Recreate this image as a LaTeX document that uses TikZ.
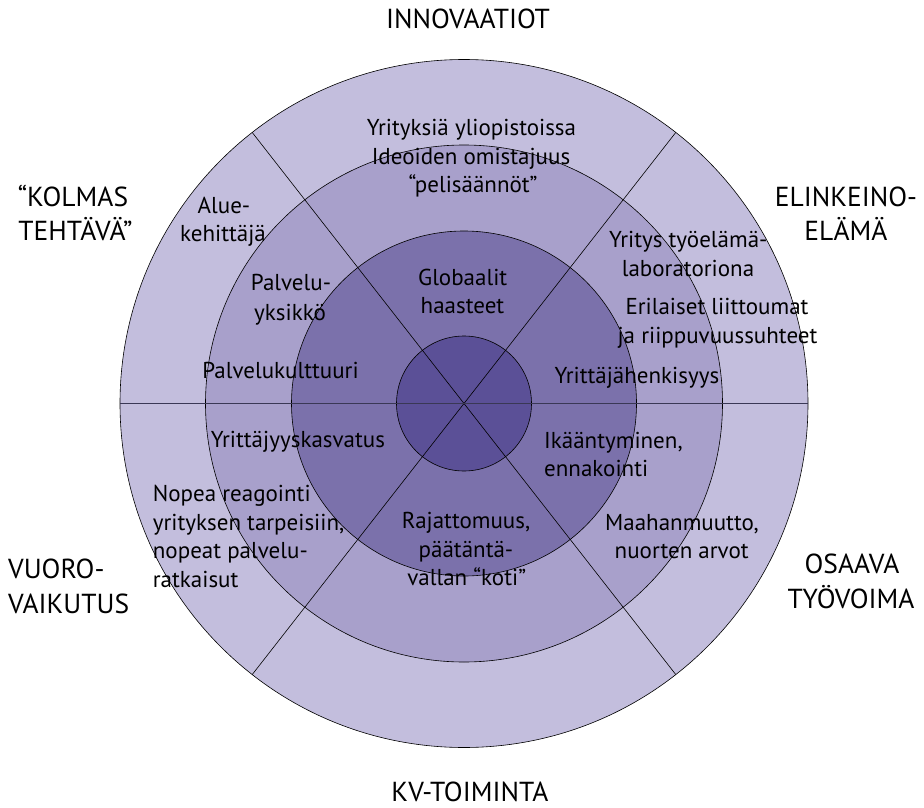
\documentclass[tikz,border=0pt]{standalone}
\usepackage{fontspec}
\setmainfont{PT Sans}
\definecolor{ringA}{RGB}{195,190,221}
\definecolor{ringB}{RGB}{168,160,203}
\definecolor{ringC}{RGB}{123,113,171}
\definecolor{ringD}{RGB}{91,80,151}
\definecolor{hline}{RGB}{58,56,85}
\tikzset{
  ring/.style={draw=black, line width=0.6pt},
  spoke/.style={draw=black, line width=0.6pt},
  lbl/.style={font=\fontsize{27.5}{34}\selectfont, anchor=base, inner sep=0pt},
  lblw/.style={lbl, anchor=base west},
  txt/.style={font=\fontsize{23}{29}\selectfont, anchor=base, inner sep=0pt},
  txtw/.style={txt, anchor=base west},
}
\begin{document}
\begin{tikzpicture}[x=1pt,y=-1pt]
\useasboundingbox (0,0) rectangle (924,808);
\coordinate (c) at (464,403.5);
% rings
\fill[ringA] (c) circle (344);
\fill[ringB] (c) circle (258.5);
\fill[ringC] (c) circle (172.5);
\fill[ringD] (c) circle (67.5);
\draw[ring] (c) circle (344);
\draw[ring] (c) circle (258.5);
\draw[ring] (c) circle (172.5);
\draw[ring] (c) circle (67.5);
% spokes
\path (c) ++(52:344) coordinate (s1a);
\path (c) ++(232:344) coordinate (s1b);
\path (c) ++(128:344) coordinate (s2a);
\path (c) ++(308:344) coordinate (s2b);
\path (c) ++(180:344) coordinate (hl);
\path (c) ++(0:344) coordinate (hr);
\draw[spoke] (s1a) -- (s1b);
\draw[spoke] (s2a) -- (s2b);
\draw[hline, line width=1.3pt] (hl) -- (hr);
% outer labels
\node[lbl] (innov) at (468,28.5) {INNOVAATIOT};
\node[lbl] (kol1) at (73,206.5) {“KOLMAS};
\node[lbl] (kol2) at (75.5,240) {TEHTÄVÄ”};
\node[lbl] (eli1) at (846,206) {ELINKEINO-};
\node[lbl] (eli2) at (846,240) {ELÄMÄ};
\node[lblw] (vuo1) at (8,578) {VUORO-};
\node[lblw] (vuo2) at (8,613) {VAIKUTUS};
\node[lbl] (osa1) at (852,573) {OSAAVA};
\node[lbl] (osa2) at (851,608) {TYÖVOIMA};
\node[lbl] (kv) at (470,801) {KV-TOIMINTA};
% inner texts
\node[txt] (y1) at (471.5,135) {Yrityksiä yliopistoissa};
\node[txt] (y2) at (471,164) {Ideoiden omistajuus};
\node[txt] (y3) at (473,192) {“pelisäännöt”};
\node[txt] (a1) at (224,213.3) {Alue-};
\node[txt] (a2) at (223,241.7) {kehittäjä};
\node[txt] (p1) at (291,290.7) {Palvelu-};
\node[txt] (p2) at (290,320) {yksikkö};
\node[txt] (pk) at (280.5,378.3) {Palvelukulttuuri};
\node[txt] (g1) at (462.7,285.5) {Globaalit};
\node[txt] (g2) at (462.5,313.3) {haasteet};
\node[txt] (t1) at (688.3,247.7) {Yritys työelämä-};
\node[txt] (t2) at (688,276.7) {laboratoriona};
\node[txt] (e1) at (717,314) {Erilaiset liittoumat};
\node[txt] (e2) at (717.5,343.3) {ja riippuvuussuhteet};
\node[txt] (yh) at (637,383.3) {Yrittäjähenkisyys};
\node[txt] (yk) at (298,447.7) {Yrittäjyyskasvatus};
\node[txtw] (n1) at (152.7,501) {Nopea reagointi};
\node[txtw] (n2) at (152.7,530.7) {yrityksen tarpeisiin,};
\node[txtw] (n3) at (152.7,558.3) {nopeat palvelu-};
\node[txtw] (n4) at (152.7,587.3) {ratkaisut};
\node[txt] (r1) at (466,528.3) {Rajattomuus,};
\node[txt] (r2) at (466,557.3) {päätäntä-};
\node[txt] (r3) at (466.7,585) {vallan “koti”};
\node[txtw] (i1) at (544,448.3) {Ikääntyminen,};
\node[txtw] (i2) at (544,476) {ennakointi};
\node[txt] (m1) at (682,530) {Maahanmuutto,};
\node[txt] (m2) at (681.7,558.3) {nuorten arvot};
\end{tikzpicture}
\end{document}
